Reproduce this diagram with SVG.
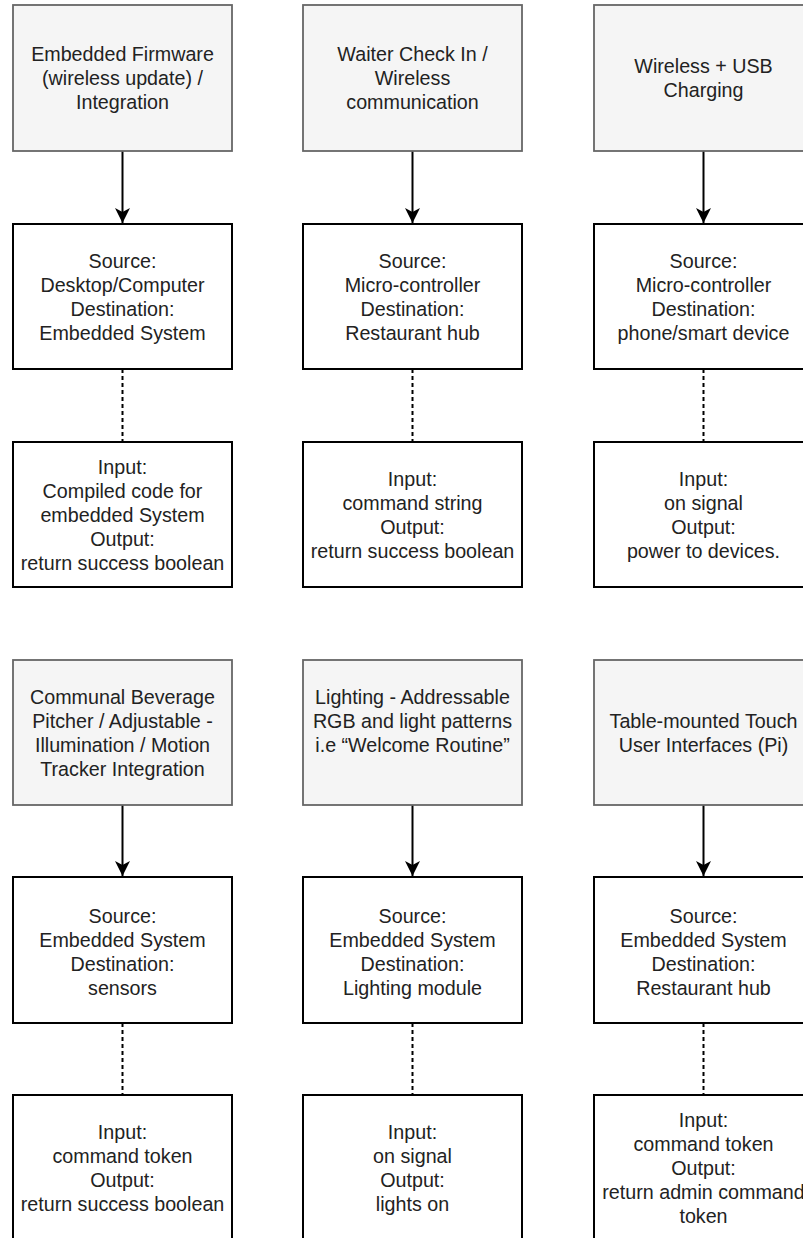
<svg xmlns="http://www.w3.org/2000/svg" width="803" height="1238" viewBox="0 0 803 1238">
<style>
.hdr{fill:#f5f5f5;stroke:#666666;stroke-width:1.8}
.box{fill:#ffffff;stroke:#000000;stroke-width:2}
.t{font-family:"Liberation Sans",Arial,sans-serif;font-size:19.7px;fill:#222222;text-anchor:middle}
.arr{stroke:#000;stroke-width:2;fill:none}
.dot{stroke:#000;stroke-width:2;fill:none;stroke-dasharray:4 3}
</style>
<defs>
<marker id="ah" markerUnits="userSpaceOnUse" markerWidth="15" markerHeight="15" viewBox="0 0 15 15" refX="15" refY="7.5" orient="auto">
<path d="M0,0 L15,7.5 L0,15 L4,7.5 Z" fill="#000"/>
</marker>
</defs>
<rect width="803" height="1238" fill="#ffffff"/>
<g id="connectors">
<line class="arr" x1="122.5" y1="151" x2="122.5" y2="223" marker-end="url(#ah)"/>
<line class="arr" x1="412.5" y1="151" x2="412.5" y2="223" marker-end="url(#ah)"/>
<line class="arr" x1="703.5" y1="151" x2="703.5" y2="223" marker-end="url(#ah)"/>
<line class="dot" x1="122.5" y1="369" x2="122.5" y2="442"/>
<line class="dot" x1="412.5" y1="369" x2="412.5" y2="442"/>
<line class="dot" x1="703.5" y1="369" x2="703.5" y2="442"/>
<line class="arr" x1="122.5" y1="805" x2="122.5" y2="876" marker-end="url(#ah)"/>
<line class="arr" x1="412.5" y1="805" x2="412.5" y2="876" marker-end="url(#ah)"/>
<line class="arr" x1="703.5" y1="805" x2="703.5" y2="876" marker-end="url(#ah)"/>
<line class="dot" x1="122.5" y1="1023" x2="122.5" y2="1095"/>
<line class="dot" x1="412.5" y1="1023" x2="412.5" y2="1095"/>
<line class="dot" x1="703.5" y1="1023" x2="703.5" y2="1095"/>
</g>
<g id="n1a"><rect class="hdr" x="13" y="5" width="219" height="146"/>
<text class="t"><tspan x="122.5" y="61">Embedded Firmware</tspan><tspan x="122.5" y="85">(wireless update) /</tspan><tspan x="122.5" y="109">Integration</tspan></text></g>
<g id="n2a"><rect class="hdr" x="303" y="5" width="219" height="146"/>
<text class="t"><tspan x="412.5" y="61">Waiter Check In /</tspan><tspan x="412.5" y="85">Wireless</tspan><tspan x="412.5" y="109">communication</tspan></text></g>
<g id="n3a"><rect class="hdr" x="594" y="5" width="219" height="146"/>
<text class="t"><tspan x="703.5" y="73">Wireless + USB</tspan><tspan x="703.5" y="97">Charging</tspan></text></g>
<g id="n1b"><rect class="box" x="13" y="224" width="219" height="145"/>
<text class="t"><tspan x="122.5" y="267.5">Source:</tspan><tspan x="122.5" y="291.5">Desktop/Computer</tspan><tspan x="122.5" y="315.5">Destination:</tspan><tspan x="122.5" y="339.5">Embedded System</tspan></text></g>
<g id="n2b"><rect class="box" x="303" y="224" width="219" height="145"/>
<text class="t"><tspan x="412.5" y="267.5">Source:</tspan><tspan x="412.5" y="291.5">Micro-controller</tspan><tspan x="412.5" y="315.5">Destination:</tspan><tspan x="412.5" y="339.5">Restaurant hub</tspan></text></g>
<g id="n3b"><rect class="box" x="594" y="224" width="219" height="145"/>
<text class="t"><tspan x="703.5" y="267.5">Source:</tspan><tspan x="703.5" y="291.5">Micro-controller</tspan><tspan x="703.5" y="315.5">Destination:</tspan><tspan x="703.5" y="339.5">phone/smart device</tspan></text></g>
<g id="n1c"><rect class="box" x="13" y="442" width="219" height="145"/>
<text class="t"><tspan x="122.5" y="473.5">Input:</tspan><tspan x="122.5" y="497.5">Compiled code for</tspan><tspan x="122.5" y="521.5">embedded System</tspan><tspan x="122.5" y="545.5">Output:</tspan><tspan x="122.5" y="569.5">return success boolean</tspan></text></g>
<g id="n2c"><rect class="box" x="303" y="442" width="219" height="145"/>
<text class="t"><tspan x="412.5" y="485.5">Input:</tspan><tspan x="412.5" y="509.5">command string</tspan><tspan x="412.5" y="533.5">Output:</tspan><tspan x="412.5" y="557.5">return success boolean</tspan></text></g>
<g id="n3c"><rect class="box" x="594" y="442" width="219" height="145"/>
<text class="t"><tspan x="703.5" y="485.5">Input:</tspan><tspan x="703.5" y="509.5">on signal</tspan><tspan x="703.5" y="533.5">Output:</tspan><tspan x="703.5" y="557.5">power to devices.</tspan></text></g>
<g id="n4a"><rect class="hdr" x="13" y="660" width="219" height="145"/>
<text class="t"><tspan x="122.5" y="703.5">Communal Beverage</tspan><tspan x="122.5" y="727.5">Pitcher / Adjustable -</tspan><tspan x="122.5" y="751.5">Illumination / Motion</tspan><tspan x="122.5" y="775.5">Tracker Integration</tspan></text></g>
<g id="n5a"><rect class="hdr" x="303" y="660" width="219" height="145"/>
<text class="t"><tspan x="412.5" y="703.5">Lighting - Addressable</tspan><tspan x="412.5" y="727.5">RGB and light patterns</tspan><tspan x="412.5" y="751.5">i.e “Welcome Routine”</tspan></text></g>
<g id="n6a"><rect class="hdr" x="594" y="660" width="219" height="145"/>
<text class="t"><tspan x="703.5" y="727.5">Table-mounted Touch</tspan><tspan x="703.5" y="751.5">User Interfaces (Pi)</tspan></text></g>
<g id="n4b"><rect class="box" x="13" y="877" width="219" height="146"/>
<text class="t"><tspan x="122.5" y="922.5">Source:</tspan><tspan x="122.5" y="946.5">Embedded System</tspan><tspan x="122.5" y="970.5">Destination:</tspan><tspan x="122.5" y="994.5">sensors</tspan></text></g>
<g id="n5b"><rect class="box" x="303" y="877" width="219" height="146"/>
<text class="t"><tspan x="412.5" y="922.5">Source:</tspan><tspan x="412.5" y="946.5">Embedded System</tspan><tspan x="412.5" y="970.5">Destination:</tspan><tspan x="412.5" y="994.5">Lighting module</tspan></text></g>
<g id="n6b"><rect class="box" x="594" y="877" width="219" height="146"/>
<text class="t"><tspan x="703.5" y="922.5">Source:</tspan><tspan x="703.5" y="946.5">Embedded System</tspan><tspan x="703.5" y="970.5">Destination:</tspan><tspan x="703.5" y="994.5">Restaurant hub</tspan></text></g>
<g id="n4c"><rect class="box" x="13" y="1095" width="219" height="145"/>
<text class="t"><tspan x="122.5" y="1138.5">Input:</tspan><tspan x="122.5" y="1162.5">command token</tspan><tspan x="122.5" y="1186.5">Output:</tspan><tspan x="122.5" y="1210.5">return success boolean</tspan></text></g>
<g id="n5c"><rect class="box" x="303" y="1095" width="219" height="145"/>
<text class="t"><tspan x="412.5" y="1138.5">Input:</tspan><tspan x="412.5" y="1162.5">on signal</tspan><tspan x="412.5" y="1186.5">Output:</tspan><tspan x="412.5" y="1210.5">lights on</tspan></text></g>
<g id="n6c"><rect class="box" x="594" y="1095" width="219" height="145"/>
<text class="t"><tspan x="703.5" y="1126.5">Input:</tspan><tspan x="703.5" y="1150.5">command token</tspan><tspan x="703.5" y="1174.5">Output:</tspan><tspan x="703.5" y="1198.5">return admin command</tspan><tspan x="703.5" y="1222.5">token</tspan></text></g>
</svg>
